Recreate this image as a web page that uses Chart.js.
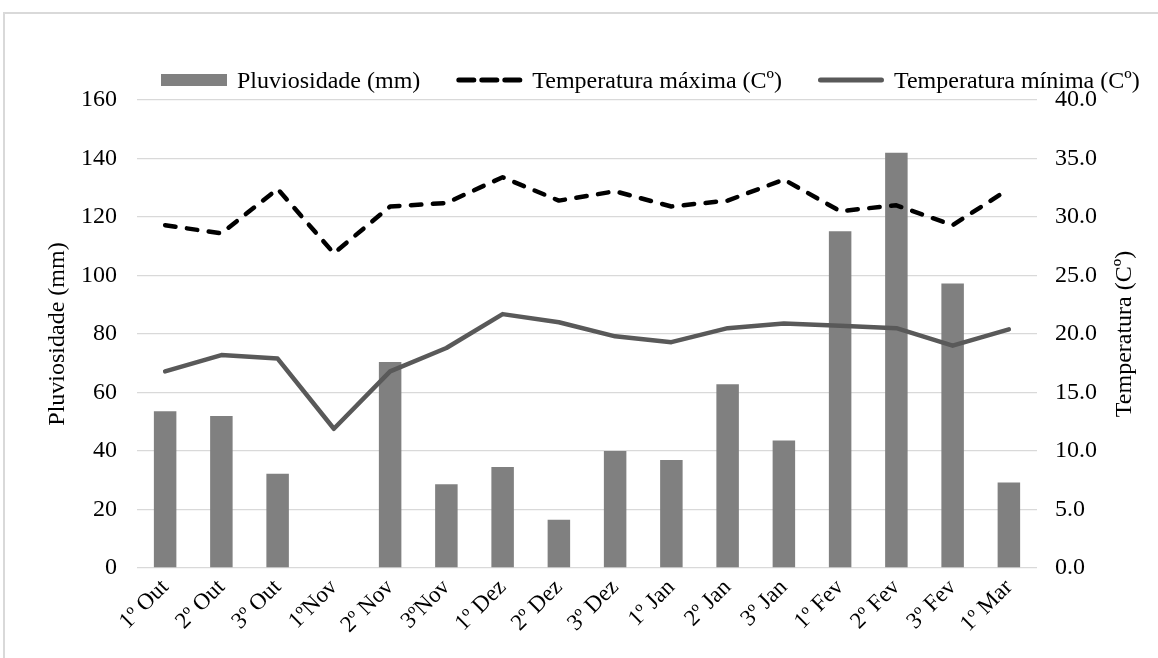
<!DOCTYPE html>
<html lang="pt">
<head>
<meta charset="utf-8">
<title>Pluviosidade e temperatura</title>
<script src="https://cdn.jsdelivr.net/npm/chart.js@4.4.1/dist/chart.umd.min.js"></script>
<style>
  html, body { margin: 0; padding: 0; background: #ffffff; }
  #wrap { position: relative; width: 1158px; height: 658px; }
  canvas { display: block; }
</style>
</head>
<body>
<div id="wrap"><canvas id="chart" width="1158" height="658"></canvas></div>
<script>
// Ten-day periods (decêndios) from October to March
const periods = ['1º Out', '2º Out', '3º Out', '1ºNov', '2º Nov', '3ºNov', '1º Dez', '2º Dez',
                 '3º Dez', '1º Jan', '2º Jan', '3º Jan', '1º Fev', '2º Fev', '3º Fev', '1º Mar'];

// Rainfall per period (mm)
const rainfall = [53.6, 52.0, 32.2, 0, 70.4, 28.6, 34.5, 16.5,
                  40.0, 36.9, 62.8, 43.6, 115.1, 142.0, 97.3, 29.2];

// Maximum and minimum temperature per period (Cº)
const maxTemp = [29.3, 28.6, 32.4, 26.9, 30.9, 31.2, 33.4, 31.4,
                 32.2, 30.9, 31.4, 33.2, 30.5, 31.0, 29.3, 32.4];
const minTemp = [16.8, 18.2, 17.9, 11.9, 16.8, 18.8, 21.7, 21.0,
                 19.8, 19.3, 20.5, 20.9, 20.7, 20.5, 19.0, 20.4];

// Axis tick values
const rainTicks = [0, 20, 40, 60, 80, 100, 120, 140, 160];
const tempTicks = [0, 5, 10, 15, 20, 25, 30, 35, 40];

const FONT = "'Liberation Serif', 'Times New Roman', serif";
Chart.defaults.font.family = FONT;
Chart.defaults.font.size = 24;
Chart.defaults.color = '#000000';

// Light grey frame around the figure
const framePlugin = {
  id: 'frame',
  beforeDraw(chart) {
    const ctx = chart.ctx;
    ctx.save();
    ctx.strokeStyle = '#d9d9d9';
    ctx.lineWidth = 2;
    ctx.beginPath();
    ctx.moveTo(4, chart.height);
    ctx.lineTo(4, 13);
    ctx.lineTo(chart.width, 13);
    ctx.stroke();
    ctx.restore();
  }
};

// Title of the right axis, written upward like the left one
const rightAxisTitle = {
  id: 'rightAxisTitle',
  afterDraw(chart, args, opts) {
    const area = chart.chartArea;
    const ctx = chart.ctx;
    ctx.save();
    ctx.translate(opts.x, (area.top + area.bottom) / 2);
    ctx.rotate(-Math.PI / 2);
    ctx.font = opts.font;
    ctx.fillStyle = opts.color;
    ctx.textAlign = 'center';
    ctx.textBaseline = 'middle';
    ctx.fillText(opts.text, 0, 0);
    ctx.restore();
  }
};

// Single-row legend drawn from the dataset styles
const seriesLegend = {
  id: 'seriesLegend',
  afterDraw(chart, args, opts) {
    const ctx = chart.ctx;
    ctx.save();
    ctx.font = opts.font;
    ctx.textAlign = 'left';
    ctx.textBaseline = 'alphabetic';
    let x = opts.x;
    const y = opts.y;
    chart.data.datasets.forEach(ds => {
      if (ds.type === 'bar') {
        ctx.fillStyle = ds.backgroundColor;
        ctx.fillRect(x, y - opts.boxHeight / 2, opts.boxWidth, opts.boxHeight);
      } else {
        const lw = opts.lineWidth;
        ctx.strokeStyle = ds.borderColor;
        ctx.lineWidth = lw;
        ctx.lineCap = 'round';
        ctx.setLineDash(ds.borderDash && ds.borderDash.length ? opts.dash : []);
        ctx.beginPath();
        ctx.moveTo(x + lw / 2, y);
        ctx.lineTo(x + opts.boxWidth - lw / 2, y);
        ctx.stroke();
        ctx.setLineDash([]);
      }
      const tx = x + opts.boxWidth + opts.gap;
      ctx.fillStyle = opts.color;
      ctx.fillText(ds.label, tx, opts.textY);
      x = tx + ctx.measureText(ds.label).width + opts.spacing;
    });
    ctx.restore();
  }
};

const ctx = document.getElementById('chart').getContext('2d');
new Chart(ctx, {
  data: {
    labels: periods,
    datasets: [
      {
        type: 'bar',
        label: 'Pluviosidade (mm)',
        data: rainfall,
        yAxisID: 'yRain',
        backgroundColor: '#808080',
        borderWidth: 0,
        barPercentage: 0.4,
        categoryPercentage: 1.0,
        order: 3
      },
      {
        type: 'line',
        label: 'Temperatura máxima (Cº)',
        data: maxTemp,
        yAxisID: 'yTemp',
        borderColor: '#000000',
        borderWidth: 4.5,
        borderDash: [10.5, 11.5],
        borderCapStyle: 'round',
        borderJoinStyle: 'round',
        tension: 0,
        pointRadius: 0,
        fill: false,
        order: 1
      },
      {
        type: 'line',
        label: 'Temperatura mínima (Cº)',
        data: minTemp,
        yAxisID: 'yTemp',
        borderColor: '#595959',
        borderWidth: 4.5,
        borderCapStyle: 'round',
        borderJoinStyle: 'round',
        tension: 0,
        pointRadius: 0,
        fill: false,
        order: 2
      }
    ]
  },
  options: {
    responsive: false,
    animation: false,
    layout: { padding: { top: 100, left: 0, right: 0, bottom: 0 } },
    plugins: {
      legend: { display: false },
      tooltip: { enabled: false },
      seriesLegend: {
        x: 161, y: 80, textY: 88,
        boxWidth: 66, boxHeight: 12, gap: 10, spacing: 36,
        lineWidth: 5, dash: [15, 8],
        font: "24px " + FONT, color: '#000000'
      },
      rightAxisTitle: {
        text: 'Temperatura (Cº)', x: 1125,
        font: "24px " + FONT, color: '#000000'
      }
    },
    scales: {
      x: {
        type: 'category',
        offset: true,
        grid: { display: false, drawTicks: false },
        border: { display: false },
        ticks: {
          maxRotation: 45, minRotation: 45, autoSkip: false,
          padding: 6,
          font: { size: 23 }
        },
        afterFit(scale) { scale.height = 90; }
      },
      yRain: {
        type: 'linear',
        position: 'left',
        min: 0, max: 160,
        afterBuildTicks(scale) { scale.ticks = rainTicks.map(v => ({ value: v })); },
        grid: { color: '#d9d9d9', lineWidth: 1.3, drawTicks: false },
        border: { display: false },
        ticks: { padding: 20, callback: v => String(v) },
        title: {
          display: true, text: 'Pluviosidade (mm)',
          font: { size: 24 }, padding: { top: 43.6, bottom: 0 }
        },
        afterFit(scale) { scale.width = 137; }
      },
      yTemp: {
        type: 'linear',
        position: 'right',
        min: 0, max: 40,
        afterBuildTicks(scale) { scale.ticks = tempTicks.map(v => ({ value: v })); },
        grid: { display: false, drawTicks: false },
        border: { display: false },
        ticks: { padding: 18, callback: v => Number(v).toFixed(1) },
        title: { display: false },
        afterFit(scale) { scale.width = 121; }
      }
    }
  },
  plugins: [framePlugin, rightAxisTitle, seriesLegend]
});
</script>
</body>
</html>
